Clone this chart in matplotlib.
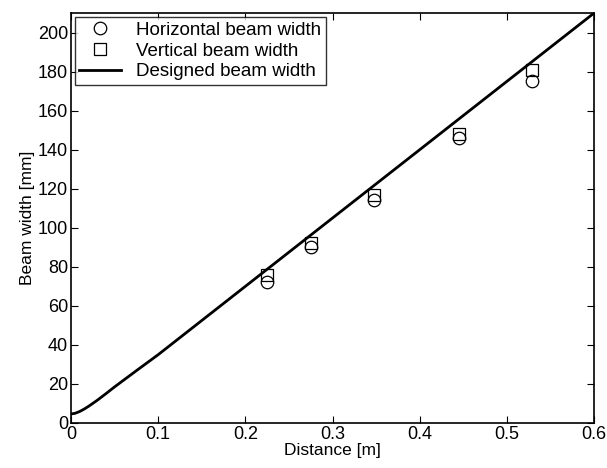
import numpy as np
import matplotlib.pyplot as plt

plt.rcParams['font.family'] = ['Liberation Sans', 'DejaVu Sans']

# measured points
dist = [0.225, 0.275, 0.348, 0.445, 0.529]
horiz = [72, 90, 114, 146, 175]
vert = [76, 92, 117, 148, 181]

# designed beam width
design_z = [0, 0.005, 0.01, 0.015, 0.02, 0.03, 0.04, 0.05, 0.075, 0.1, 0.2, 0.3, 0.4, 0.5, 0.6]
design_w = [4.6, 5.0, 5.9, 7.1, 8.5, 11.6, 15.0, 18.5, 26.8, 35, 70, 105, 140, 175, 210]

fig = plt.figure(figsize=(6.07, 4.68), dpi=100)
ax = fig.add_axes([0.117, 0.0962, 0.8616, 0.8758])

ax.plot(dist, horiz, 'o', mfc='none', mec='k', ms=9, mew=0.9, label='Horizontal beam width')
ax.plot(dist, vert, 's', mfc='none', mec='k', ms=8, mew=0.9, label='Vertical beam width')
ax.plot(design_z, design_w, 'k-', lw=2, label='Designed beam width')

ax.set_xlim(0, 0.6)
ax.set_ylim(0, 210)
ax.set_xticks([0, 0.1, 0.2, 0.3, 0.4, 0.5, 0.6])
ax.set_xticklabels(['0', '0.1', '0.2', '0.3', '0.4', '0.5', '0.6'])
ax.set_yticks(range(0, 201, 20))
ax.tick_params(direction='in', top=True, right=True, length=5, labelsize=13, width=0.8, pad=2)
for s in ax.spines.values():
    s.set_linewidth(1.2)
ax.set_xlabel('Distance [m]', fontsize=12.5, labelpad=0)
ax.set_ylabel('Beam width [mm]', fontsize=12.5, labelpad=2)

leg = ax.legend(loc='upper left', fontsize=13.5, fancybox=False, edgecolor='k',
                borderaxespad=0.2, handlelength=2.2, borderpad=0.25, labelspacing=0.2,
                handletextpad=0.8)
leg.get_frame().set_linewidth(1.0)

fig.savefig('out.png', dpi=100)
